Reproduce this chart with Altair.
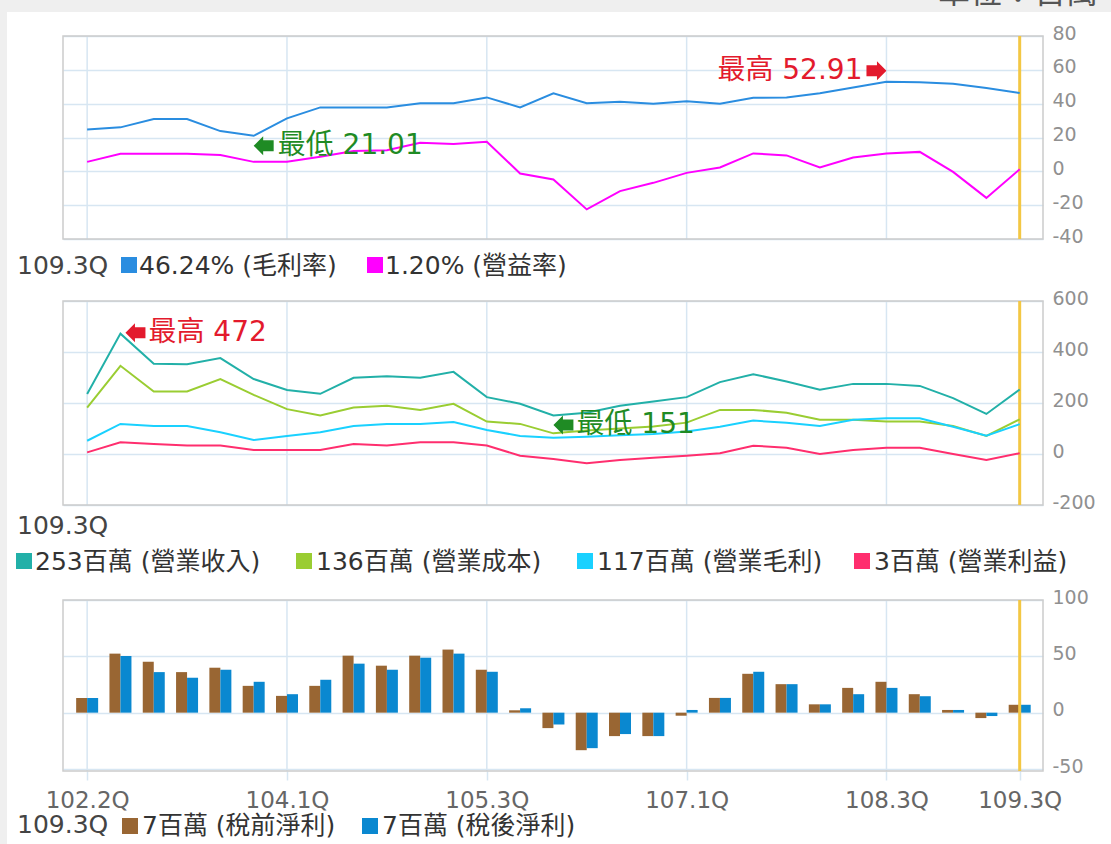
import altair as alt
import pandas as pd

# ---------------- data ----------------
quarters = ["102.2Q", "102.3Q", "102.4Q", "103.1Q", "103.2Q", "103.3Q", "104.1Q",
            "104.2Q", "104.3Q", "104.4Q", "105.1Q", "105.2Q", "105.3Q", "105.4Q",
            "106.1Q", "106.2Q", "106.3Q", "106.4Q", "107.1Q", "107.2Q", "107.3Q",
            "107.4Q", "108.1Q", "108.2Q", "108.3Q", "108.4Q", "109.1Q", "109.2Q", "109.3Q"]
tick_positions = [0, 6, 12, 18, 24, 28]

gross_margin = [24.8, 26.0, 30.9, 30.9, 23.8, 21.01, 31.3, 37.8, 37.8, 37.8, 40.2, 40.2, 43.7, 37.8,
                46.1, 40.2, 41.1, 40.0, 41.5, 40.0, 43.5, 43.7, 46.1, 49.6, 52.91, 52.7, 51.8, 49.2, 46.24]
op_margin = [5.6, 10.4, 10.4, 10.4, 9.6, 5.6, 5.6, 8.6, 12.0, 12.5, 16.9, 16.1, 17.5, -1.3,
             -4.8, -22.5, -11.7, -6.8, -0.9, 2.3, 10.6, 9.4, 2.3, 8.2, 10.6, 11.5, -0.3, -15.7, 1.20]

revenue = [235, 472, 354, 352, 376, 294, 251, 236, 299, 305, 299, 322, 223, 197,
           151, 162, 189, 206, 223, 282, 313, 284, 252, 275, 275, 267, 219, 157, 253]
cost = [182, 346, 245, 245, 294, 232, 176, 151, 182, 189, 173, 197, 127, 118,
        81, 92, 100, 108, 123, 173, 173, 162, 134, 134, 127, 127, 110, 71, 136]
gross_profit = [52, 118, 110, 110, 85, 55, 71, 85, 110, 118, 118, 125, 94, 71,
                64, 68, 74, 78, 88, 107, 131, 123, 110, 134, 140, 140, 107, 72, 117]
op_income = [6.5, 46, 39, 33, 33, 16, 16, 16, 39, 33, 46, 46, 33, -6.5,
             -19.6, -36.6, -23.6, -14.4, -6.5, 2.6, 32.7, 24.9, 0, 15.7, 24.9, 24.9, 0, -23.6, 3]

pretax = [13, 52.4, 45.2, 36, 39.9, 23.8, 14.9, 23.8, 50.6, 41.7, 50.6, 56, 38.1, 2.1,
          -13.7, -33.3, -20.8, -20.8, -2.7, 13.1, 34.5, 25.3, 7.4, 22, 27.4, 16.4, 2.4, -4.8, 7]
aftertax = [13, 50.3, 36, 31, 38.1, 27.4, 16.4, 29.2, 43.5, 38.1, 48.8, 52.4, 36.3, 3.9,
            -10.5, -31.5, -19, -20.8, 2.4, 13.1, 36.3, 25.3, 7.4, 16.4, 22, 14.6, 2.4, -3, 7]

n = len(quarters)
df = pd.DataFrame({
    "idx": list(range(n)), "q": quarters,
    "gm": gross_margin, "om": op_margin,
    "rev": revenue, "cost": cost, "gp": gross_profit, "oi": op_income,
    "pre": pretax, "post": aftertax,
})

# ---------------- layout / style ----------------
W, H = 980, 735
OX, OY = 63, 36           # plot origin on the page
P1 = (0, 203)
P2 = (265, 469)
P3 = (564, 735)

GRID = "#d7e6f2"
FRAME = "#cccccc"
GOLD = "#f3c744"
RED = "#e31a2d"
GREEN = "#1f8b24"
FONT = "DejaVu Sans, Noto Sans CJK TC"

C_GM, C_OM = "#2a8de0", "#ff00ff"
C_REV, C_COST, C_GP, C_OI = "#22b0a8", "#9acd32", "#1ad1ff", "#ff2e6e"
C_PRE, C_POST = "#996633", "#0a88d0"

label_expr = "[" + ",".join("'%s'" % q for q in quarters) + "][datum.value]"
X = alt.X("idx:Q",
          scale=alt.Scale(domain=[-0.725, 28.7], nice=False, zero=False, padding=0),
          axis=alt.Axis(values=tick_positions, labelExpr=label_expr, grid=False, domain=False,
                        ticks=True, tickColor=GRID, tickSize=9, tickWidth=1.5,
                        labelFont=FONT, labelFontSize=23, labelColor="#666666",
                        labelPadding=9, labelFlush=False, labelOverlap=False, title=None))


def yaxis(vals):
    return alt.Axis(orient="right", values=vals, grid=True, gridColor=GRID, gridWidth=1.5,
                    domain=False, ticks=False, tickSize=0, labelPadding=9, labelFont=FONT,
                    labelFontSize=19, labelColor="#909090", labelOffset=-3,
                    labelExpr="toString(datum.value)",
                    labelFlush=False, labelOverlap=False, title=None)


S1 = alt.Scale(domain=[-40, 80], range=[P1[1], P1[0]], nice=False, zero=False)
S2 = alt.Scale(domain=[-200, 600], range=[P2[1], P2[0]], nice=False, zero=False)
S3 = alt.Scale(domain=[-50, 100], range=[733, P3[0]], nice=False, zero=False)
A1 = yaxis([-40, -20, 0, 20, 40, 60, 80])
A2 = yaxis([-200, 0, 200, 400, 600])
A3 = yaxis([-50, 0, 50, 100])

ONE = pd.DataFrame({"k": [0]})


def px(v):
    return v - OX


def py(v):
    return v - OY


def txt(s, x, y, size, color, align="left", baseline="middle"):
    return alt.Chart(ONE).mark_text(text=s, align=align, baseline=baseline, font=FONT,
                                    fontSize=size, color=color).encode(
        x=alt.value(x), y=alt.value(y))


def sq(x, y, color, side=16):
    return alt.Chart(ONE).mark_square(size=side * side, color=color, opacity=1).encode(
        x=alt.value(x), y=alt.value(y))


def box(x1, x2, y1, y2, **kw):
    return alt.Chart(ONE).mark_rect(**kw).encode(
        x=alt.value(x1), x2=alt.value(x2), y=alt.value(y1), y2=alt.value(y2))


grid_df = pd.DataFrame({"idx": tick_positions[:-1]})
last_df = pd.DataFrame({"idx": [n - 1]})


def panel_base(top, bottom):
    frame = box(0, W, top, bottom, fillOpacity=0, stroke=FRAME, strokeWidth=1.5)
    vg = alt.Chart(grid_df).mark_rule(color=GRID, strokeWidth=1.5).encode(
        x=X, y=alt.value(top), y2=alt.value(bottom))
    gold = alt.Chart(last_df).mark_rule(color=GOLD, strokeWidth=3).encode(
        x=X, y=alt.value(top), y2=alt.value(bottom))
    return [vg, frame, gold]


def line(field, color, scale, axis):
    return alt.Chart(df).mark_line(color=color, strokeWidth=2).encode(
        x=X, y=alt.Y(field + ":Q", scale=scale, axis=axis))


RIGHT_ARROW = "M-1,-0.55L0.05,-0.55L0.05,-0.95L1,0L0.05,0.95L0.05,0.55L-1,0.55Z"
LEFT_ARROW = "M1,-0.55L-0.05,-0.55L-0.05,-0.95L-1,0L-0.05,0.95L-0.05,0.55L1,0.55Z"


def annotate(values, kind, scale, axis, fmt, xo, yo, tdx):
    if kind == "max":
        i = values.index(max(values))
        word, color = "最高", RED
    else:
        i = values.index(min(values))
        word, color = "最低", GREEN
    v = values[i]
    d = pd.DataFrame({"idx": [i], "v": [v]})
    y = alt.Y("v:Q", scale=scale, axis=axis)
    pointing_right = xo < 0
    arrow = alt.Chart(d).mark_point(shape=RIGHT_ARROW if pointing_right else LEFT_ARROW,
                                    size=400, filled=True, color=color, opacity=1,
                                    xOffset=xo, yOffset=yo).encode(x=X, y=y)
    label = alt.Chart(d).mark_text(text=word + " " + fmt.format(v), font=FONT, fontSize=28,
                                   color=color, align="right" if pointing_right else "left",
                                   baseline="middle", dx=tdx, dy=yo).encode(x=X, y=y)
    return [arrow, label]


# ---------------- panel 1 : margins ----------------
panel1 = alt.layer(
    *panel_base(*P1),
    line("gm", C_GM, S1, A1),
    line("om", C_OM, S1, A1),
    *annotate(gross_margin, "max", S1, A1, "{:.2f}", -10, -11, -24),
    *annotate(gross_margin, "min", S1, A1, "{:.2f}", 10, 10, 24),
)

# ---------------- panel 2 : revenue etc. ----------------
panel2 = alt.layer(
    *panel_base(*P2),
    line("rev", C_REV, S2, A2),
    line("cost", C_COST, S2, A2),
    line("gp", C_GP, S2, A2),
    line("oi", C_OI, S2, A2),
    *annotate(revenue, "max", S2, A2, "{:.0f}", 15, -1, 28),
    *annotate(revenue, "min", S2, A2, "{:.0f}", 10, 9.5, 23),
)

# ---------------- panel 3 : net income bars ----------------
bar_pre = alt.Chart(df).mark_bar(size=11, xOffset=-5.5, color=C_PRE).encode(
    x=X, y=alt.Y("pre:Q", scale=S3, axis=A3), y2=alt.datum(0))
bar_post = alt.Chart(df).mark_bar(size=11, xOffset=5.5, color=C_POST).encode(
    x=X, y=alt.Y("post:Q", scale=S3, axis=A3), y2=alt.datum(0))
p3 = panel_base(*P3)
panel3 = alt.layer(p3[0], p3[1], bar_pre, bar_post, p3[2])

# ---------------- page decoration & legends ----------------
BG = "#efefef"
deco = [
    box(px(0), px(1111), py(0), py(12), color=BG),
    box(px(0), px(7), py(0), py(844), color=BG),
    txt("單位：百萬", px(938), py(3), 32, "#555555", baseline="alphabetic"),
]

LT = 25
TXT = "#333333"
last = quarters[-1]
legends = [
    # row 1
    txt(last, px(17), py(266), LT, "#444444"),
    sq(px(129), py(265), C_GM),
    txt("{:.2f}% (毛利率)".format(gross_margin[-1]), px(139), py(266), LT, TXT),
    sq(px(375), py(265), C_OM),
    txt("{:.2f}% (營益率)".format(op_margin[-1]), px(385), py(266), LT, TXT),
    # row 2
    txt(last, px(17), py(526), LT, "#444444"),
    sq(px(24), py(561), C_REV),
    txt("{:.0f}百萬 (營業收入)".format(revenue[-1]), px(35), py(562), LT, TXT),
    sq(px(304), py(561), C_COST),
    txt("{:.0f}百萬 (營業成本)".format(cost[-1]), px(316), py(562), LT, TXT),
    sq(px(585), py(561), C_GP),
    txt("{:.0f}百萬 (營業毛利)".format(gross_profit[-1]), px(597), py(562), LT, TXT),
    sq(px(862), py(561), C_OI),
    txt("{:.0f}百萬 (營業利益)".format(op_income[-1]), px(874), py(562), LT, TXT),
    # row 3
    txt(last, px(17), py(825), LT, "#444444"),
    sq(px(130), py(826), C_PRE),
    txt("{:.0f}百萬 (稅前淨利)".format(pretax[-1]), px(142), py(826), LT, TXT),
    sq(px(370), py(826), C_POST),
    txt("{:.0f}百萬 (稅後淨利)".format(aftertax[-1]), px(382), py(826), LT, TXT),
]

chart = alt.layer(*deco, panel1, panel2, panel3, *legends).resolve_scale(
    y="independent"
).properties(
    width=W, height=H, background="white",
    padding={"left": OX, "top": OY, "right": 1111 - OX - W, "bottom": 844 - OY - H},
    autosize=alt.AutoSizeParams(type="none"),
).configure_view(strokeWidth=0)

chart.save("out.html", embed_options={"renderer": "svg", "actions": False})
